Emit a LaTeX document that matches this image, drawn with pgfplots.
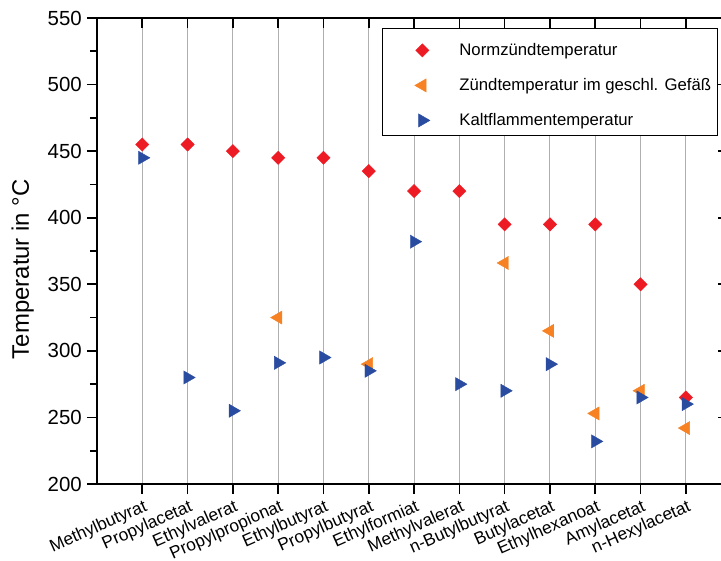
\documentclass[border=0pt]{standalone}
\usepackage{pgfplots}
\pgfplotsset{compat=1.18}
\usepackage{pgfplotstable}
\usepackage{fontspec}
\setmainfont{Liberation Sans}
\usetikzlibrary{calc}
\definecolor{cred}{RGB}{237,28,36}
\definecolor{corange}{RGB}{246,130,35}
\definecolor{cblue}{RGB}{42,76,160}
\definecolor{cgrid}{RGB}{175,175,175}

\pgfplotstableread{
x norm zuend kalt
1 455 nan 445
2 455 nan 280
3 450 nan 255
4 445 325 291
5 445 nan 295
6 435 290 285
7 420 nan 382
8 420 nan 275
9 395 366 270
10 395 315 290
11 395 253 232
12 350 270 265
13 265 242 260
}\data

\begin{document}
\begin{tikzpicture}
\begin{axis}[
  name=ax,
  scale only axis,
  width=631bp, height=466bp,
  xmin=0, xmax=13.93,
  ymin=200, ymax=550,
  xtick={1,...,13},
  xticklabels={Methylbutyrat,Propylacetat,Ethylvalerat,Propylpropionat,Ethylbutyrat,Propylbutyrat,Ethylformiat,Methylvalerat,n-Butylbutyrat,Butylacetat,Ethylhexanoat,Amylacetat,n-Hexylacetat},
  ytick={200,250,...,550},
  minor y tick num=1,
  tick pos=left,
  tick align=outside,
  major tick length=10bp,
  minor tick length=7bp,
  tick style={black, line width=1.6bp},
  axis line style={line width=1.6bp},
  xmajorgrids,
  major grid style={cgrid, line width=1bp},
  /pgf/number format/assume math mode=true,
  yticklabel style={font=\fontsize{20.5}{24}\selectfont, anchor=east, inner sep=0pt, xshift=-5bp},
  xticklabel style={font=\fontsize{17.4}{20}\selectfont, anchor=east, inner sep=0pt, xshift=4bp, yshift=-12bp, rotate=24},
  ylabel={Temperatur in °C},
  ylabel style={font=\fontsize{24}{28}\selectfont, at={(axis description cs:-0.1176,0.461)}, anchor=center, rotate=0},
  legend cell align=left,
  legend image code/.code={\path[draw=none,fill=none] (0bp,-13bp) rectangle (71bp,20bp); \draw[#1] plot coordinates {(36bp,0bp)};},
  legend style={at={(0.4516,0.9785)}, anchor=north west, draw=black, line width=0.8bp, fill=white,
    inner xsep=4bp, inner ysep=2bp, row sep=2bp, column sep=0pt,
    font=\fontsize{16.8}{20}\selectfont, nodes={inner xsep=2bp, inner ysep=0bp}},
]
\addplot[only marks, mark=square*, mark size=4.7bp, line width=0.4bp, color=cred, mark options={rotate=45, fill=cred, draw=cred}] table[x=x, y=norm] {\data};
\addlegendentry{Normzündtemperatur}
\addplot[only marks, mark=triangle*, mark size=7.6bp, line width=0.4bp, color=corange, mark options={rotate=90, fill=corange, draw=corange}] table[x=x, y=zuend] {\data};
\addlegendentry{Zündtemperatur im geschl. Gefäß}
\addplot[only marks, mark=triangle*, mark size=7.6bp, line width=0.4bp, color=cblue, mark options={rotate=-90, fill=cblue, draw=cblue}] table[x=x, y=kalt] {\data};
\addlegendentry{Kaltflammentemperatur}
\end{axis}
\begin{axis}[
  scale only axis,
  width=631bp, height=466bp,
  xmin=0, xmax=13.93,
  ymin=200, ymax=550,
  xtick={1,...,13},
  ytick={200,250,...,550},
  xticklabels={}, yticklabels={},
  tick pos=right,
  tick align=inside,
  major tick length=10bp,
  tick style={black, line width=1.6bp},
  axis line style={line width=1.6bp},
]
\end{axis}
\pgfresetboundingbox
\path[use as bounding box] ($(ax.south west)+(-97bp,-77bp)$) rectangle ($(ax.south west)+(624bp,484bp)$);
\end{tikzpicture}
\end{document}
